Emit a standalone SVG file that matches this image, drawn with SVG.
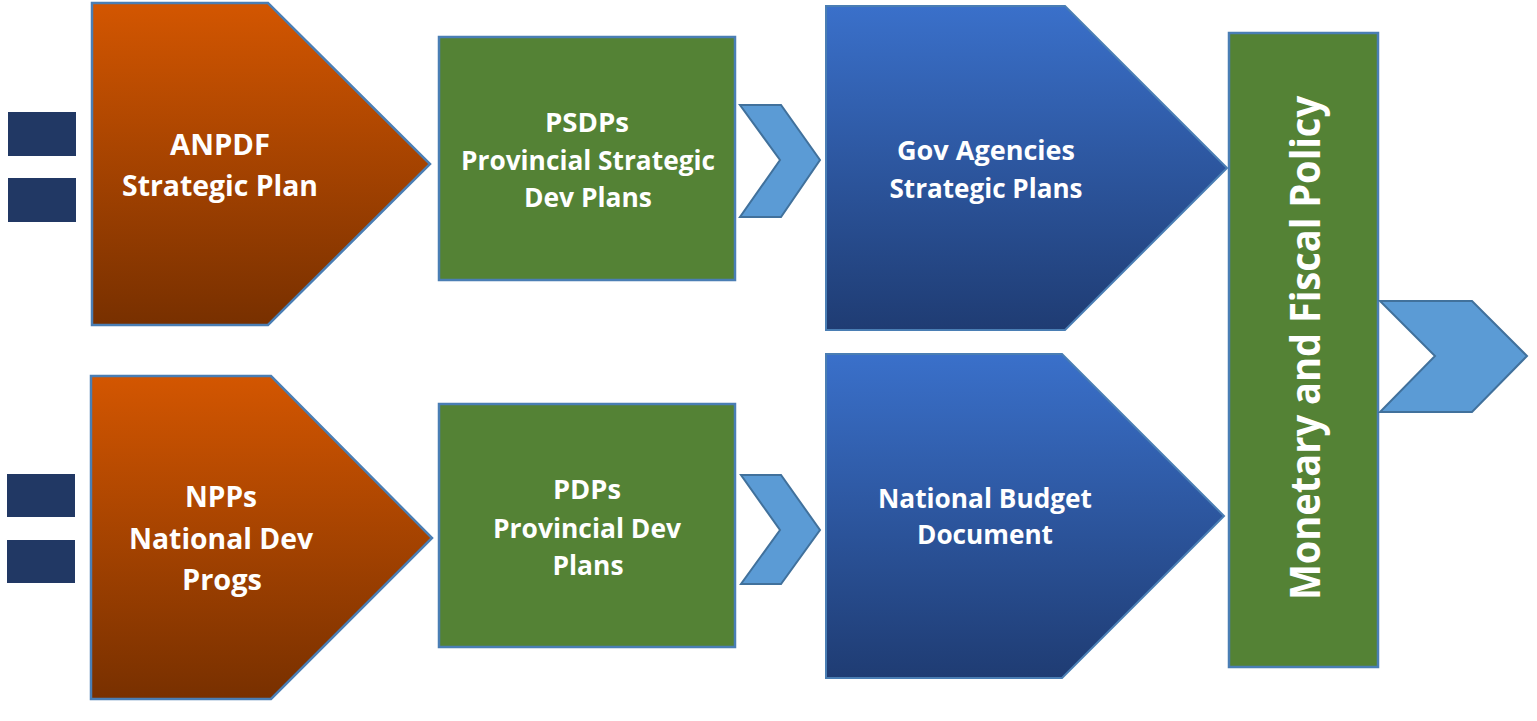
<svg xmlns="http://www.w3.org/2000/svg" width="1537" height="721" viewBox="0 0 1537 721">
  <defs>
    <linearGradient id="gOrange" x1="0" y1="0" x2="0" y2="1">
      <stop offset="0" stop-color="#D35601"/>
      <stop offset="1" stop-color="#783000"/>
    </linearGradient>
    <linearGradient id="gBlue" x1="0" y1="0" x2="0" y2="1">
      <stop offset="0" stop-color="#3A70CA"/>
      <stop offset="1" stop-color="#1F3C73"/>
    </linearGradient>
  </defs>
  <style>
    .sq { fill: #213864; }
    .orange { fill: url(#gOrange); stroke: #4A7EB4; stroke-width: 2.5; }
    .blue { fill: url(#gBlue); stroke: #4A7EB4; stroke-width: 2; }
    .green { fill: #548235; stroke: #4A7EB4; stroke-width: 2.5; }
    .chev { fill: #5B9BD5; stroke: #41719C; stroke-width: 2; stroke-linejoin: miter; }
    .lbl { font-family: "Open Sans", "Noto Sans", sans-serif; font-weight: 700; fill: #FFFFFF; text-anchor: middle; font-size: 26px; }
    .big { font-size: 28px; }
    .vert { font-size: 42px; }
  </style>

  <g id="bars-top">
    <rect class="sq" x="8" y="112" width="68" height="44"/>
    <rect class="sq" x="8" y="178" width="68" height="44"/>
  </g>
  <g id="bars-bottom">
    <rect class="sq" x="7" y="474" width="68" height="43"/>
    <rect class="sq" x="7" y="540" width="68" height="43"/>
  </g>

  <g id="anpdf">
    <polygon class="orange" points="92,3 268,3 430,164 268,325 92,325"/>
    <text class="lbl big" x="220" y="155" textLength="100" lengthAdjust="spacingAndGlyphs">ANPDF</text>
    <text class="lbl big" x="220" y="196" textLength="196" lengthAdjust="spacingAndGlyphs">Strategic Plan</text>
  </g>

  <g id="npps">
    <polygon class="orange" points="91,376 271,376 432,538 271,699 91,699"/>
    <text class="lbl big" x="221" y="507" textLength="72" lengthAdjust="spacingAndGlyphs">NPPs</text>
    <text class="lbl big" x="221" y="549" textLength="184" lengthAdjust="spacingAndGlyphs">National Dev</text>
    <text class="lbl big" x="222" y="590" textLength="80" lengthAdjust="spacingAndGlyphs">Progs</text>
  </g>

  <g id="psdps">
    <rect class="green" x="439" y="37" width="296" height="243"/>
    <text class="lbl" x="587" y="132" textLength="84" lengthAdjust="spacingAndGlyphs">PSDPs</text>
    <text class="lbl" x="588" y="170" textLength="254" lengthAdjust="spacingAndGlyphs">Provincial Strategic</text>
    <text class="lbl" x="588" y="207" textLength="128" lengthAdjust="spacingAndGlyphs">Dev Plans</text>
  </g>

  <g id="pdps">
    <rect class="green" x="439" y="404" width="296" height="243"/>
    <text class="lbl" x="587" y="499" textLength="68" lengthAdjust="spacingAndGlyphs">PDPs</text>
    <text class="lbl" x="587" y="538" textLength="188" lengthAdjust="spacingAndGlyphs">Provincial Dev</text>
    <text class="lbl" x="588" y="575" textLength="71" lengthAdjust="spacingAndGlyphs">Plans</text>
  </g>

  <g id="gov-agencies">
    <polygon class="blue" points="826,6 1065,6 1227,168 1065,330 826,330"/>
    <text class="lbl" x="986" y="160" textLength="178" lengthAdjust="spacingAndGlyphs">Gov Agencies</text>
    <text class="lbl" x="986" y="198" textLength="193" lengthAdjust="spacingAndGlyphs">Strategic Plans</text>
  </g>

  <g id="national-budget">
    <polygon class="blue" points="826,354 1062,354 1224,516 1062,678 826,678"/>
    <text class="lbl" x="985" y="508" textLength="214" lengthAdjust="spacingAndGlyphs">National Budget</text>
    <text class="lbl" x="985" y="544" textLength="136" lengthAdjust="spacingAndGlyphs">Document</text>
  </g>

  <g id="monetary-fiscal">
    <rect class="green" x="1229" y="33" width="149" height="634"/>
    <text class="lbl vert" x="0" y="0" transform="translate(1320,348) rotate(-90)" textLength="504" lengthAdjust="spacingAndGlyphs">Monetary and Fiscal Policy</text>
  </g>

  <g id="connectors">
    <polygon class="chev" points="740,105 781,105 820,160 781,217 740,217 780,160"/>
    <polygon class="chev" points="741,475 781,475 820,530 781,584 741,584 780,530"/>
    <polygon class="chev" points="1380,301 1472,301 1527,356 1472,412 1380,412 1435,356"/>
  </g>
</svg>
